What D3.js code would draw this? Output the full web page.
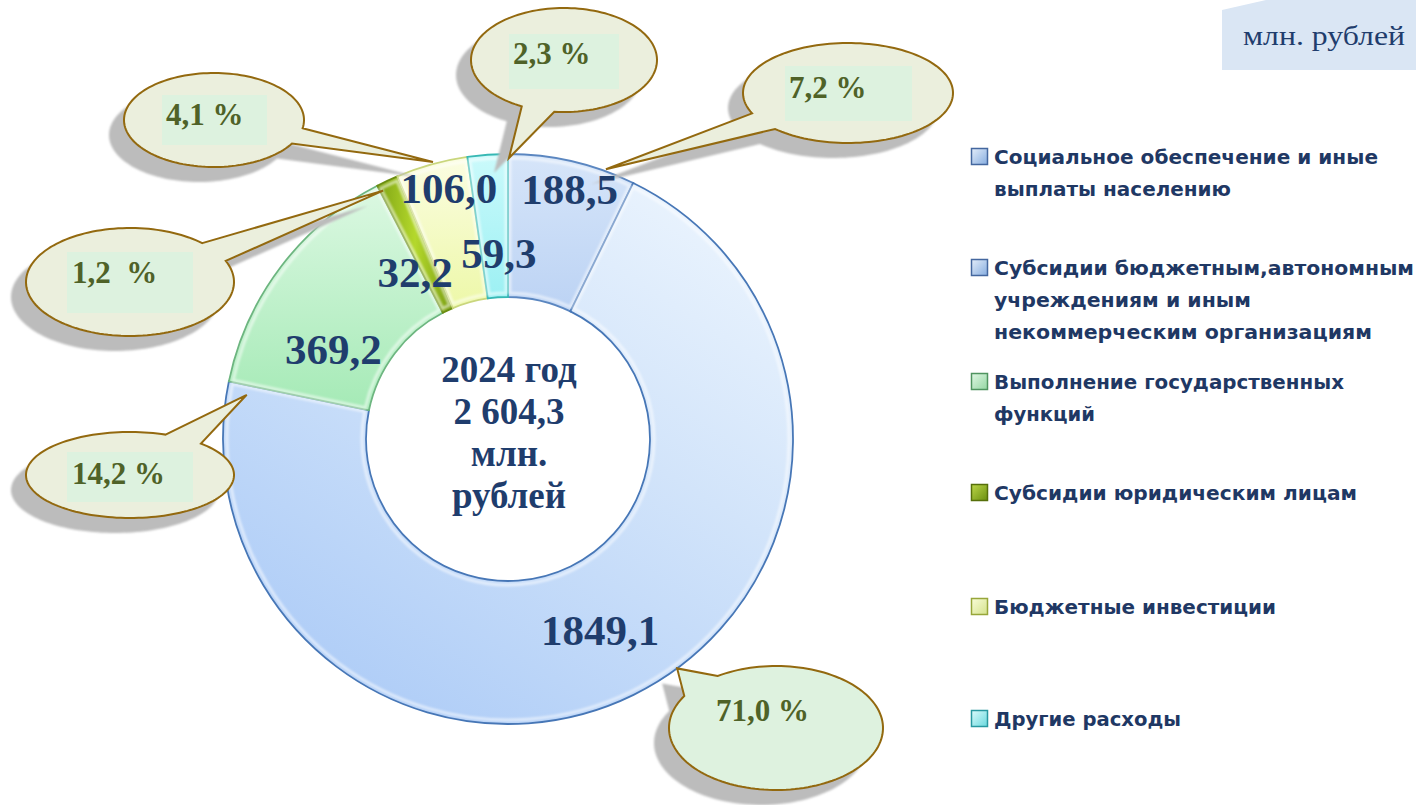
<!DOCTYPE html>
<html><head><meta charset="utf-8">
<script src="https://cdn.jsdelivr.net/npm/d3@7"></script>
<style>body{margin:0;background:#fff}svg{display:block}</style>
</head><body>
<svg id="chart" width="1416" height="805"></svg>
<script>
// ---------- data ----------
const categories = [
  "Социальное обеспечение и иные выплаты населению",
  "Субсидии бюджетным,автономным учреждениям и иным некоммерческим организациям",
  "Выполнение государственных функций",
  "Субсидии юридическим лицам",
  "Бюджетные инвестиции",
  "Другие расходы"
];
const legendLines = [
  ["Социальное обеспечение и иные", "выплаты населению"],
  ["Субсидии бюджетным,автономным", "учреждениям и иным", "некоммерческим организациям"],
  ["Выполнение государственных", "функций"],
  ["Субсидии юридическим лицам"],
  ["Бюджетные инвестиции"],
  ["Другие расходы"]
];
const values = [188.5, 1849.1, 369.2, 32.2, 106.0, 59.3];
const percentLabels = ["7,2 %", "71,0 %", "14,2 %", "1,2  %", "4,1 %", "2,3 %"];
const yearLabel = "2024 год";
const unitShort = "млн.";
const unitWord = "рублей";
const unitLabel = "млн. рублей";

// ---------- layout ----------
const W = 1416, H = 805;
const cx = 508, cy = 439, R = 285, r0 = 142;
// value label placement [angle deg, radius]
const labelPolar = [[13.9, 257], [154.4, 213], [297, 196], [330.7, 190], [346.7, 257], [357.2, 185]];
// callout tip placement [angle deg, radius]
const tipPolar = [[19.95, 287], [143.6, 285], [279.6, 265], [333.3, 278], [344.85, 287], [0.2, 281]];
const callouts = [
  {cx: 848, cy: 93, rx: 105, ry: 50, base: [156, 134], rect: [785, 66, 127, 55], tx: 789, ty: 98, fill: "#ebefdd"},
  {cx: 776, cy: 728, rx: 107, ry: 62, base: [237, 211], rect: null, tx: 716, ty: 721, fill: "#def2df"},
  {cx: 130, cy: 475, rx: 104, ry: 43, base: [-70, -47], rect: [67, 452, 126, 50], tx: 72, ty: 484, fill: "#ebefdd"},
  {cx: 130, cy: 282, rx: 104, ry: 54, base: [-46, -23], rect: [67, 252, 126, 61], tx: 72, ty: 283, fill: "#ebefdd"},
  {cx: 214, cy: 120, rx: 90, ry: 47, base: [10, 30], rect: [162, 95, 105, 50], tx: 166, ty: 125, fill: "#ebefdd"},
  {cx: 564, cy: 60, rx: 93, ry: 52, base: [117, 96], rect: [509, 34, 110, 55], tx: 513, ty: 64, fill: "#ebefdd"}
];
const sliceFill = [
  ["#d6e5f9", "#bcd3f4"],
  null,
  ["#dcf8e2", "#a5eab6"],
  null,
  ["#fbfde2", "#edf8a8"],
  ["#cbfafb", "#9cf0f3"]
];
const sliceStroke = ["#5a86c0", "#4676b6", "#6cb57f", "#6a8c10", "#c9d67c", "#36b8b4"];
const markerStyle = [
  ["#e4edf9", "#86ade0", "#44679f"],
  ["#e4edf9", "#86ade0", "#44679f"],
  ["#e0f7e4", "#94d6a3", "#4f9460"],
  ["#bcd648", "#6a8f0e", "#566f0a"],
  ["#f9fcd8", "#d4e28c", "#97a63a"],
  ["#dcfbfc", "#69d8dd", "#2898a0"]
];
const legendWidths = [[384, 237], [420, 257, 378], [350, 101], [363], [282], [187]];
const legendBaseline = [164, 275, 389, 500, 614, 726];
const navy = "#1f3d6d";

const fmt1 = v => d3.format(".1f")(v).replace(".", ",");
const total = d3.sum(values);
const totalLabel = d3.format(",.1f")(total).replace(/,/g, " ").replace(".", ",");

const svg = d3.select("#chart");
svg.append("rect").attr("width", W).attr("height", H).attr("fill", "#fff");
const defs = svg.append("defs");

function linGrad(id, x1, y1, x2, y2, stops, user) {
  const g = defs.append("linearGradient").attr("id", id)
    .attr("x1", x1).attr("y1", y1).attr("x2", x2).attr("y2", y2);
  if (user) g.attr("gradientUnits", "userSpaceOnUse");
  stops.forEach(s => g.append("stop").attr("offset", s[0]).attr("stop-color", s[1]));
}
sliceFill.forEach((f, i) => {
  if (f) linGrad("sg" + i, "0", "0", "0", "1", [[0, f[0]], [1, f[1]]]);
});
linGrad("sg1", 240, -260, -110, 285, [[0, "#eef6fe"], [0.45, "#d2e4fa"], [1, "#afcdf7"]], true);
linGrad("sg3", "0", "0", "1", "0", [[0, "#7ea314"], [0.5, "#b4d82c"], [1, "#789c12"]]);
markerStyle.forEach((m, i) => linGrad("mg" + i, "0", "0", "1", "1", [[0, m[0]], [1, m[1]]]));

const blur = defs.append("filter").attr("id", "blur").attr("x", "-10%").attr("y", "-10%").attr("width", "120%").attr("height", "120%");
blur.append("feGaussianBlur").attr("stdDeviation", 0.9);
const soft = defs.append("filter").attr("id", "soft");
soft.append("feGaussianBlur").attr("stdDeviation", 1.2);

// ---------- donut ----------
const pie = d3.pie().sort(null).value(d => d).startAngle(0).endAngle(2 * Math.PI);
const arcsData = pie(values);
const arc = d3.arc().innerRadius(r0).outerRadius(R);
const insetArc = d3.arc().innerRadius(r0 + 4).outerRadius(R - 4).padAngle(0.012);

const g = svg.append("g").attr("transform", `translate(${cx},${cy})`);
g.selectAll("path.slice").data(arcsData).join("path")
  .attr("class", "slice")
  .attr("d", arc)
  .attr("fill", (d, i) => `url(#sg${i})`)
  .attr("stroke", (d, i) => sliceStroke[i])
  .attr("stroke-width", 1.8);
g.selectAll("path.gloss").data(arcsData).join("path")
  .attr("class", "gloss")
  .attr("d", insetArc)
  .attr("fill", "none")
  .attr("stroke", "#ffffff")
  .attr("stroke-opacity", 0.55)
  .attr("stroke-width", 3)
  .attr("filter", "url(#soft)");

// ---------- callouts ----------
const toXY = (deg, rad) => {
  const p = d3.pointRadial(deg * Math.PI / 180, rad);
  return [cx + p[0], cy + p[1]];
};
function calloutPath(c, tip) {
  const pt = a => [c.cx + c.rx * Math.cos(a * Math.PI / 180), c.cy + c.ry * Math.sin(a * Math.PI / 180)];
  const a1 = c.base[0], a2 = c.base[1];
  const end = a1 > a2 ? a1 - 360 : a1 + 360;
  const pts = [pt(a1), tip];
  const n = 140;
  for (let k = 0; k <= n; k++) pts.push(pt(a2 + (end - a2) * k / n));
  return d3.line()(pts) + "Z";
}
const cg = svg.append("g");
callouts.forEach((c, i) => {
  const tip = toXY(tipPolar[i][0], tipPolar[i][1]);
  cg.append("path").attr("d", calloutPath(c, tip))
    .attr("transform", "translate(-15,15)")
    .attr("fill", "#bcbcbc").attr("filter", "url(#blur)");
});
callouts.forEach((c, i) => {
  const tip = toXY(tipPolar[i][0], tipPolar[i][1]);
  cg.append("path").attr("d", calloutPath(c, tip))
    .attr("fill", c.fill).attr("stroke", "#93690f").attr("stroke-width", 2)
    .attr("stroke-linejoin", "miter");
  if (c.rect) cg.append("rect").attr("x", c.rect[0]).attr("y", c.rect[1])
    .attr("width", c.rect[2]).attr("height", c.rect[3]).attr("fill", "#ddf2df");
  cg.append("text").attr("x", c.tx).attr("y", c.ty)
    .attr("font-family", "'Liberation Serif','Times New Roman',serif")
    .attr("font-weight", "bold").attr("font-size", 31)
    .attr("fill", "#4f6228").style("white-space", "pre")
    .text(percentLabels[i]);
});

// ---------- value labels ----------
svg.append("g").selectAll("text").data(arcsData).join("text")
  .attr("x", (d, i) => toXY(labelPolar[i][0], labelPolar[i][1])[0])
  .attr("y", (d, i) => toXY(labelPolar[i][0], labelPolar[i][1])[1] + 14)
  .attr("text-anchor", "middle")
  .attr("font-family", "'Liberation Serif','Times New Roman',serif")
  .attr("font-weight", "bold").attr("font-size", 43)
  .attr("fill", navy)
  .text(d => fmt1(d.data));

// ---------- centre text ----------
const centerLines = [yearLabel, totalLabel, unitShort, unitWord];
svg.append("g").selectAll("text").data(centerLines).join("text")
  .attr("x", cx + 1).attr("y", (d, i) => 382 + i * 42)
  .attr("text-anchor", "middle")
  .attr("font-family", "'Liberation Serif','Times New Roman',serif")
  .attr("font-weight", "bold").attr("font-size", 37)
  .attr("fill", navy)
  .text(d => d);

// ---------- legend ----------
const lg = svg.append("g");
legendLines.forEach((lines, i) => {
  const by = legendBaseline[i];
  lg.append("rect").attr("x", 971.5).attr("y", by - 15.5).attr("width", 16).attr("height", 16)
    .attr("fill", `url(#mg${i})`).attr("stroke", markerStyle[i][2]).attr("stroke-width", 1.5);
  lines.forEach((t, j) => {
    lg.append("text").attr("x", 994).attr("y", by + j * 32)
      .attr("font-family", "'DejaVu Sans',Verdana,sans-serif")
      .attr("font-weight", "bold").attr("font-size", 20)
      .attr("fill", "#1f3864")
      .attr("textLength", legendWidths[i][j]).attr("lengthAdjust", "spacingAndGlyphs")
      .text(t);
  });
});

// ---------- unit box ----------
svg.append("polygon").attr("points", "1222,10 1266,0 1416,0 1416,70 1222,70").attr("fill", "#dae6f4");
svg.append("text").attr("x", 1243).attr("y", 45)
  .attr("font-family", "'Liberation Serif','Times New Roman',serif")
  .attr("font-size", 27).attr("fill", "#1f3d6d")
  .attr("textLength", 162).attr("lengthAdjust", "spacingAndGlyphs")
  .text(unitLabel);
</script>
</body></html>
